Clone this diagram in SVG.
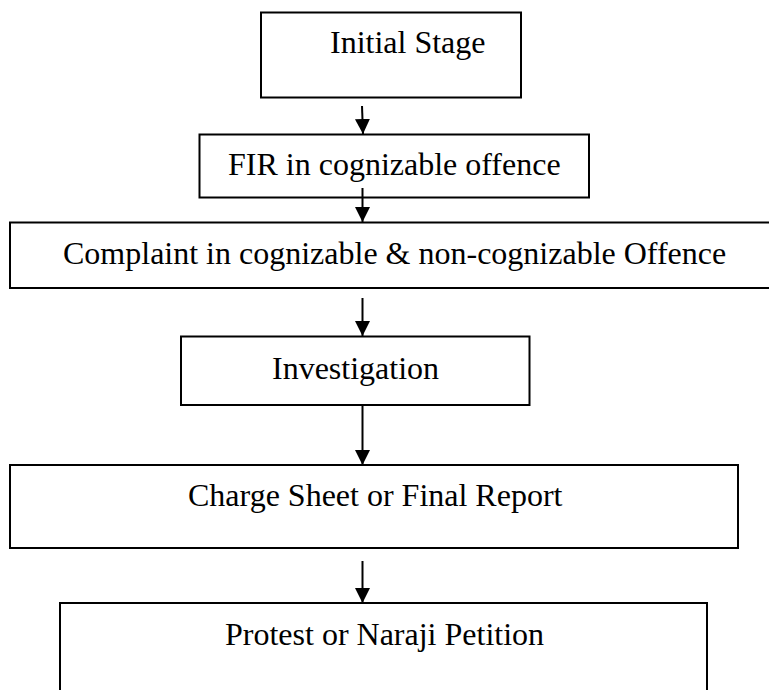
<svg xmlns="http://www.w3.org/2000/svg" width="769" height="690" viewBox="0 0 769 690">
  <style>
    .box { fill: #ffffff; stroke: #000000; stroke-width: 2; }
    .label { font-family: "Liberation Serif", "Times New Roman", serif; font-size: 32px; fill: #000000; }
    .link { stroke: #000000; stroke-width: 2; fill: none; marker-end: url(#arrow); }
  </style>
  <defs>
    <marker id="arrow" markerUnits="userSpaceOnUse" markerWidth="16" markerHeight="16" refX="15" refY="7.5" orient="auto">
      <path d="M0,0 L15,7.5 L0,15 Z" fill="#000000"/>
    </marker>
  </defs>
  <rect width="769" height="690" fill="#ffffff"/>

  <g id="node-initial-stage">
    <rect class="box" x="261" y="12.5" width="260" height="85"/>
    <text class="label" x="330" y="53">Initial Stage</text>
  </g>

  <g id="node-fir">
    <rect class="box" x="199.5" y="134.5" width="389.5" height="63"/>
    <text class="label" x="228" y="175">FIR in cognizable offence</text>
  </g>

  <g id="node-complaint">
    <rect class="box" x="10" y="222.5" width="770" height="65.5"/>
    <text class="label" x="63" y="264">Complaint in cognizable &amp; non-cognizable Offence</text>
  </g>

  <g id="node-investigation">
    <rect class="box" x="181" y="336.5" width="348.5" height="68.5"/>
    <text class="label" x="272" y="379">Investigation</text>
  </g>

  <g id="node-charge-sheet">
    <rect class="box" x="10" y="465" width="728" height="83"/>
    <text class="label" x="188" y="506">Charge Sheet or Final Report</text>
  </g>

  <g id="node-protest">
    <rect class="box" x="60" y="603" width="647" height="100"/>
    <text class="label" x="225" y="645">Protest or Naraji Petition</text>
  </g>

  <g id="connectors">
    <line class="link" x1="362" y1="106" x2="363" y2="134"/>
    <line class="link" x1="362.5" y1="188" x2="362.5" y2="222"/>
    <line class="link" x1="362.5" y1="298" x2="362.5" y2="336"/>
    <line class="link" x1="362.5" y1="405" x2="362.5" y2="465"/>
    <line class="link" x1="362.5" y1="561" x2="362.5" y2="603"/>
  </g>
</svg>
